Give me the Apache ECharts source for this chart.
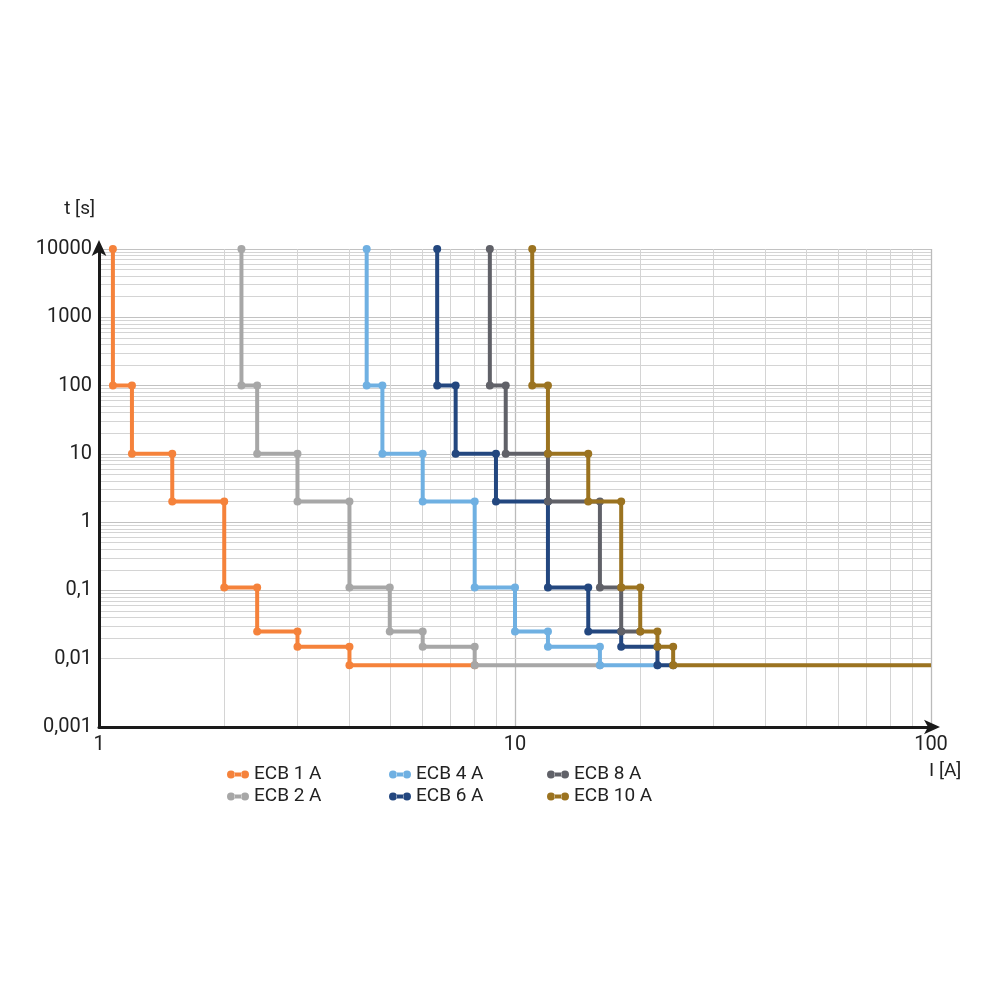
<!DOCTYPE html>
<html>
<head>
<meta charset="utf-8">
<script src="https://cdn.jsdelivr.net/npm/echarts@6/dist/echarts.min.js"></script>
<style>html,body{margin:0;padding:0;background:#fff}#c{width:1000px;height:1000px}</style>
</head>
<body>
<div id="c"></div>
<script>
// Trip-time levels t [s] shared by all curves (top to bottom)
const tLevels = [10000, 100, 10, 2, 0.11, 0.025, 0.015, 0.008];
// Step currents I [A] for each breaker (vertical step positions, last = end of curve)
const ecb1A = [1.08, 1.2, 1.5, 2, 2.4, 3, 4, 8];
const ecb2A = [2.2, 2.4, 3, 4, 5, 6, 8, 16];
const ecb4A = [4.4, 4.8, 6, 8, 10, 12, 16, 22];
const ecb6A = [6.5, 7.2, 9, 12, 15, 18, 22, 24];
const ecb8A = [8.7, 9.5, 12, 16, 18, 20];
const ecb10A = [11, 12, 15, 18, 20, 22, 24, 100];
const seriesNames = ['ECB 1 A', 'ECB 2 A', 'ECB 4 A', 'ECB 6 A', 'ECB 8 A', 'ECB 10 A'];
const seriesColors = ['#F5823B', '#A7A7A7', '#6FB0E2', '#23477F', '#606168', '#9B7320'];
const xTickLabels = {0: '1', 1: '10', 2: '100'};
const yTickLabels = {'-3': '0,001', '-2': '0,01', '-1': '0,1', '0': '1', '1': '10', '2': '100', '3': '1000', '4': '10000'};

function stepPoints(currents, lastNoSymbol) {
  const pts = [[currents[0], tLevels[0]]];
  for (let i = 1; i < currents.length; i++) {
    pts.push([currents[i - 1], tLevels[i]]);
    pts.push([currents[i], tLevels[i]]);
  }
  if (lastNoSymbol) {
    const last = pts.pop();
    pts.push({value: last, symbol: 'none'});
  }
  return pts;
}

// minor grid positions (2..9 within each decade)
const minorX = [], minorY = [];
for (let e = 0; e < 2; e++) for (let m = 2; m <= 9; m++) minorX.push(m * Math.pow(10, e));
for (let e = -3; e < 4; e++) for (let m = 2; m <= 9; m++) minorY.push(+(m * Math.pow(10, e)).toPrecision(3));

const curveData = [ecb1A, ecb2A, ecb4A, ecb6A, ecb8A, ecb10A];
const fontFam = 'Roboto, "Liberation Sans", sans-serif';

const series = [{
  type: 'line', name: 'grid', data: [], silent: true, z: 0,
  markLine: {
    silent: true, symbol: 'none', animation: false, z: 0,
    label: {show: false},
    lineStyle: {color: '#d4d4d4', width: 1, type: 'solid'},
    emphasis: {disabled: true},
    data: minorX.map(v => ({xAxis: v})).concat(minorY.map(v => ({yAxis: v})))
  }
}];
curveData.forEach((c, i) => {
  series.push({
    type: 'line', name: seriesNames[i],
    data: stepPoints(c, i === curveData.length - 1),
    z: 3 + i,
    symbol: 'circle', symbolSize: 8,
    lineStyle: {width: 4, color: seriesColors[i], cap: 'butt', join: 'miter'},
    itemStyle: {color: seriesColors[i]},
    emphasis: {disabled: true},
    clip: true
  });
});

const iconPath = 'path://M0,4a4,4 0 1,0 8,0a4,4 0 1,0 -8,0zM14,4a4,4 0 1,0 8,0a4,4 0 1,0 -8,0zM7.5,2L14.5,2L14.5,6L7.5,6z';
function legendCol(names, left) {
  return {
    data: names.map(n => ({name: n, icon: iconPath})),
    orient: 'vertical', left: left, top: 760,
    itemWidth: 22, itemHeight: 8, itemGap: 3,
    selectedMode: false,
    textStyle: {fontFamily: fontFam, fontSize: 19, color: '#222'}
  };
}

const option = {
  animation: false,
  backgroundColor: '#fff',
  grid: {left: 99, right: 69, top: 249, bottom: 273, containLabel: false},
  legend: [
    legendCol([seriesNames[0], seriesNames[1]], 222),
    legendCol([seriesNames[2], seriesNames[3]], 384),
    legendCol([seriesNames[4], seriesNames[5]], 542)
  ],
  xAxis: {
    type: 'log', logBase: 10, min: 1, max: 100, splitNumber: 2,
    name: 'I [A]', nameLocation: 'end', nameGap: -2,
    nameTextStyle: {fontFamily: fontFam, fontSize: 19, color: '#222', align: 'left', verticalAlign: 'top', padding: [35, 0, 0, 0]},
    axisLine: {show: true, lineStyle: {color: '#1a1a1a', width: 3}, symbol: ['none', 'arrow'], symbolSize: [11, 16], symbolOffset: [0, 9]},
    axisTick: {show: false},
    axisLabel: {fontFamily: fontFam, fontSize: 20, color: '#222', margin: 8,
      formatter: v => xTickLabels[Math.round(Math.log10(v))] || ''},
    splitLine: {show: true, lineStyle: {color: '#bbbbbb', width: 1.3}},
    minorTick: {show: false}
  },
  yAxis: {
    type: 'log', logBase: 10, min: 0.001, max: 10000, splitNumber: 7,
    name: 't [s]', nameLocation: 'end', nameGap: 30,
    nameTextStyle: {fontFamily: fontFam, fontSize: 19, color: '#222', align: 'right', padding: [0, 4, 0, 0]},
    axisLine: {show: true, lineStyle: {color: '#1a1a1a', width: 3}, symbol: ['none', 'arrow'], symbolSize: [11, 16], symbolOffset: [0, 9]},
    axisTick: {show: false},
    axisLabel: {fontFamily: fontFam, fontSize: 20, color: '#222', margin: 7,
      formatter: v => yTickLabels[String(Math.round(Math.log10(v)))] || ''},
    splitLine: {show: true, lineStyle: {color: '#c2c2c2', width: 1}}
  },
  series: series
};
const chart = echarts.init(document.getElementById('c'), null, {renderer: 'canvas'});
chart.setOption(option);
</script>
</body>
</html>
